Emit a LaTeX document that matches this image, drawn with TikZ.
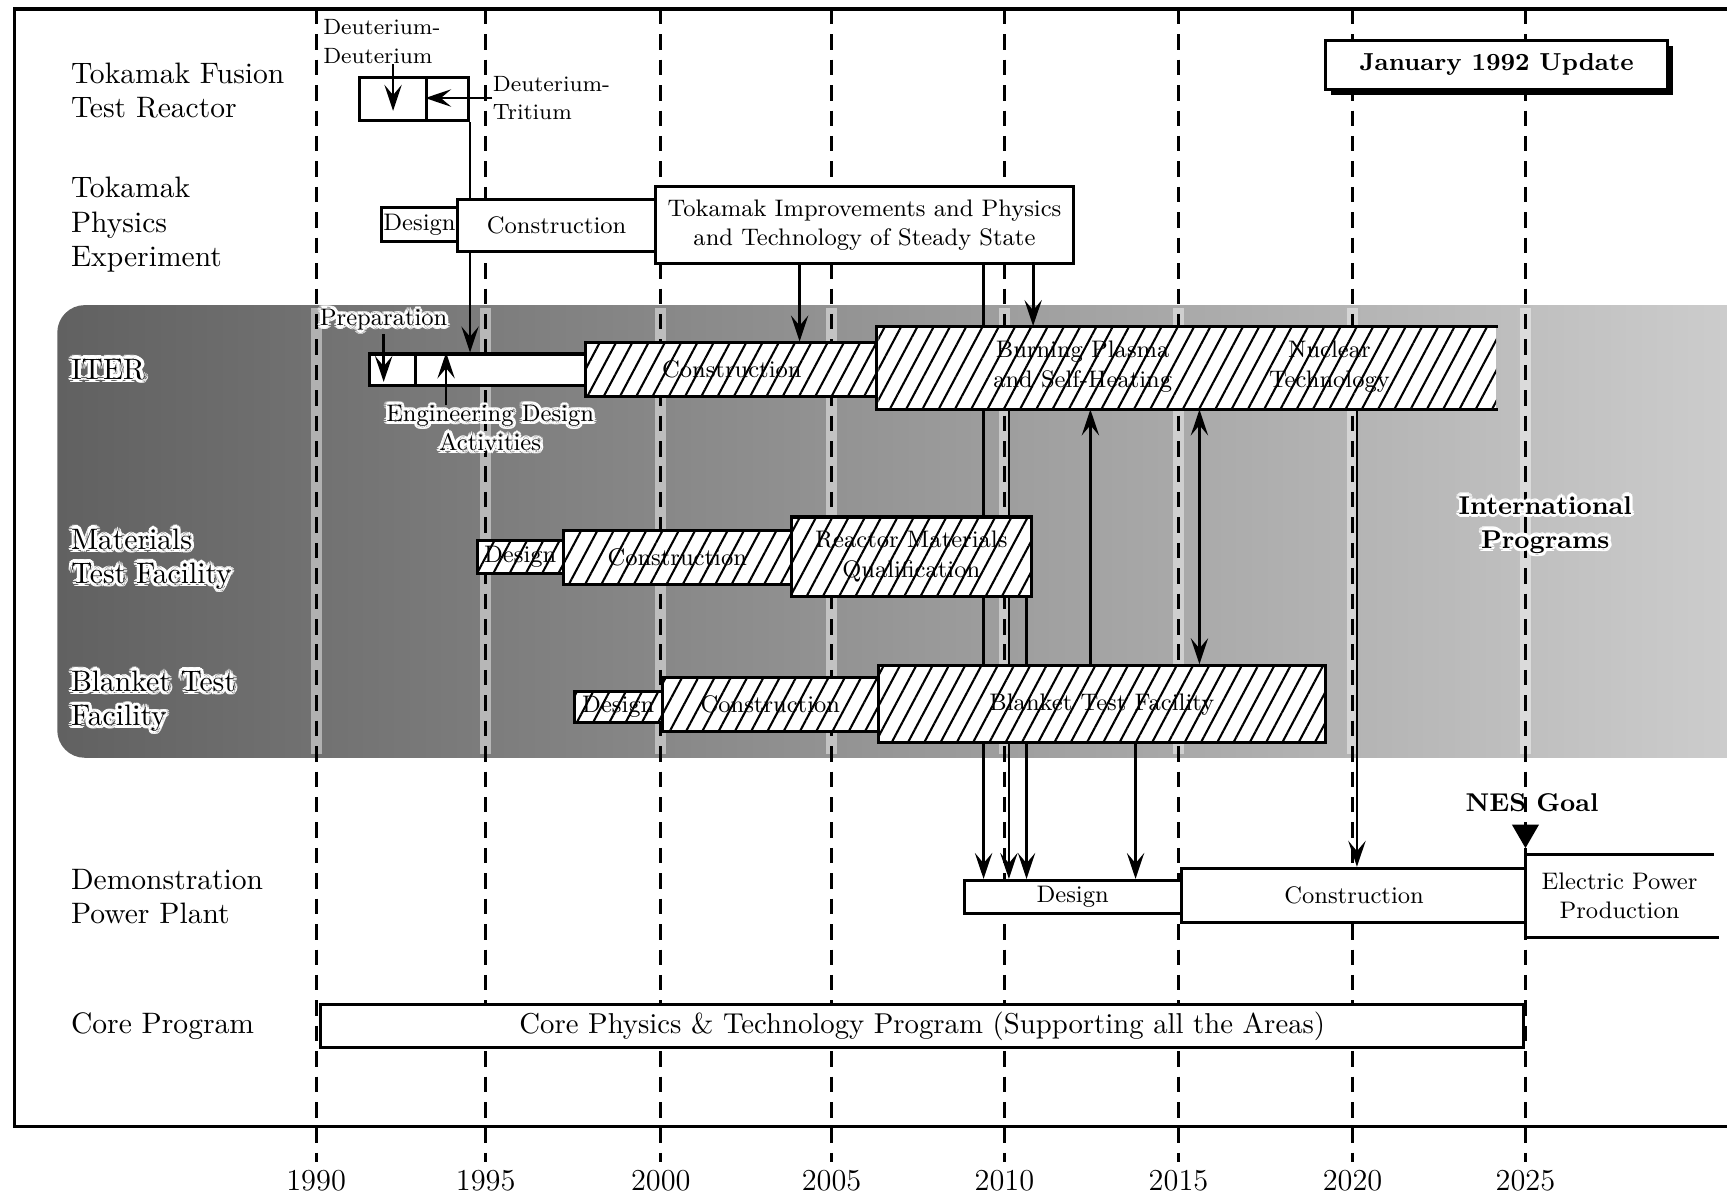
\documentclass[tikz,border=0pt]{standalone}
\usepackage{contour}
\usetikzlibrary{arrows.meta,patterns.meta,shadows,shapes.geometric}
\contourlength{1.2pt}
\contournumber{12}
\newcommand{\halo}[1]{\contour{white}{#1}}
\newlength{\pxu}
\setlength{\pxu}{0.014cm}
\pgfdeclarelayer{band}
\pgfdeclarelayer{wires}
\pgfsetlayers{band,wires,main}

\begin{document}
\begin{tikzpicture}[x=\pxu, y=\pxu, >={Stealth[length=3.3mm,width=2.2mm,inset=1.3mm]},
    font=\fontsize{8.65}{10.7}\selectfont,
    boxsz/.style 2 args={minimum width=#1*\pxu, minimum height=#2*\pxu},
    edge/.style={draw, line width=1.1pt, inner sep=0pt, anchor=north west, align=center},
    bar/.style={edge, fill=white},
    hbar/.style={edge, preaction={fill=white}, pattern={Lines[angle=62,distance=5.2pt,line width=0.75pt]}},
    rowlbl/.style={anchor=west, align=left, inner sep=0pt, font=\fontsize{10.7}{12.35}\selectfont},
    txt/.style={align=center, inner sep=0pt},
    link/.style={line width=1pt},
    yrline/.style={line width=1.1pt, dash pattern=on 5.6pt off 3.6pt}]
  \useasboundingbox (0,0) rectangle (1568,-1085);

  % frame and grey band
  \draw[line width=1.25pt] (1568,-8) -- (13,-8) -- (13,-1023) -- (1568,-1023);
  \begin{pgfonlayer}{band}
    \clip (0,0) rectangle (1568,-1085);
    \shade[rounded corners=0.35cm, left color=black!62, middle color=black!45, right color=black!18] (52,-277) rectangle (1640,-688);
  \end{pgfonlayer}

  % row names
  \node[rowlbl] (tftrlbl) at (64,-82) {Tokamak Fusion\\Test Reactor};
  \node[rowlbl] (tpxlbl) at (64,-204) {Tokamak\\Physics\\Experiment};
  \node[rowlbl] (iterlbl) at (64,-337) {\halo{ITER}};
  \node[rowlbl] (mtflbl) at (64,-509) {\halo{Materials}\\\halo{Test Facility}};
  \node[rowlbl] (btflbl) at (64,-638) {\halo{Blanket Test}\\\halo{Facility}};
  \node[rowlbl] (demolbl) at (64,-814) {Demonstration\\Power Plant};
  \node[rowlbl] (corelbl) at (64,-932) {Core Program};

  % TFTR
  \node[bar, boxsz={61}{39}] (tftrA) at (325,-69) {};
  \node[bar, boxsz={38}{39}] (tftrB) at (386,-69) {};
  \node[txt, anchor=west, align=left, font=\fontsize{8}{10.4}\selectfont] (dd) at (293,-38) {Deuterium-\\Deuterium};
  \node[txt, anchor=west, align=left, font=\fontsize{8}{10.4}\selectfont] (dt) at (447,-89) {Deuterium-\\Tritium};
  \draw[link,->] (dd.south -| tftrA) -- ([yshift=-0.15cm]tftrA.center);
  \draw[link,->] (dt.west) -- (dt.west -| tftrB.west);

  % TPX
  \node[bar, boxsz={69}{31}] (tpxd) at (345,-187) {Design};
  \node[bar, boxsz={180}{47}] (tpxc) at (414,-180) {Construction};
  \node[bar, boxsz={379}{70}] (tpxi) at (594,-168) {Tokamak Improvements and Physics\\and Technology of Steady State};

  % ITER
  \node[bar, boxsz={42}{29}] (prep) at (334,-320) {};
  \node[bar, boxsz={155}{29}] (eda) at (376,-320) {};
  \node[hbar, boxsz={265}{49}] (iterc) at (531,-310) {Construction};
  \node[hbar, draw=none, boxsz={561}{73}] (burn) at (796,-296) {};
  \draw[line width=1.1pt] (burn.north east) -- (burn.north west) -- (burn.south west) -- (burn.south east);
  \node[txt] (burnA) at (983,-333) {Burning Plasma\\and Self-Heating};
  \node[txt] (burnB) at (1207,-333) {Nuclear\\Technology};
  \node[txt, anchor=west] (preplbl) at (290,-292) {\halo{Preparation}};
  \node[txt, font=\fontsize{8.65}{10.4}\selectfont] (edalbl) at (445,-390) {\halo{Engineering Design}\\\halo{Activities}};
  \draw[link,->] (preplbl.south) -- ([yshift=0.07cm]preplbl.south |- prep.south);
  \draw[link,->] ([xshift=-0.56cm]edalbl.north) -- ([xshift=-0.56cm]edalbl.north |- eda.north);

  % Materials Test Facility
  \node[hbar, boxsz={78}{30}] (mtfd) at (432,-489) {Design};
  \node[hbar, boxsz={207}{49}] (mtfc) at (510,-480) {Construction};
  \node[hbar, boxsz={218}{72}] (rmq) at (717,-468) {Reactor Materials\\Qualification};

  % Blanket Test Facility
  \node[hbar, boxsz={80}{29}] (btfd) at (520,-626) {Design};
  \node[hbar, boxsz={196}{49}] (btfc) at (600,-614) {Construction};
  \node[hbar, boxsz={406}{70}] (btfm) at (796,-603) {Blanket Test Facility};

  % Demo plant
  \node[bar, boxsz={197}{30}] (demod) at (874,-798) {Design};
  \node[bar, boxsz={314}{49}] (democ) at (1071,-787) {Construction};
  \node[bar, draw=none, boxsz={168}{72}] (epp) at (1385,-776) {Electric Power\\Production};
  \draw[line width=1.1pt] (epp.north east) -- (epp.north west) -- (epp.south west) -- ([xshift=0.07cm]epp.south east);
  \node[regular polygon, regular polygon sides=3, shape border rotate=180, fill, inner sep=0pt,
        minimum size=0.4cm, anchor=corner 1] (nes) at ([yshift=0.07cm]epp.north west) {};
  \node[txt, font=\bfseries\fontsize{9.3}{11}\selectfont] (neslbl) at (1391,-729) {NES Goal};

  % core program
  \node[bar, boxsz={1092}{39}, font=\fontsize{10.4}{12}\selectfont] (corep) at (290,-911)
    {Core Physics \& Technology Program (Supporting all the Areas)};

  \node[bar, boxsz={311}{45}, font=\bfseries\fontsize{8.9}{10.5}\selectfont,
        drop shadow={shadow xshift=0.07cm, shadow yshift=-0.07cm, fill=black, opacity=1}] (upd) at (1202,-35) {January 1992 Update};
  \node[txt, font=\bfseries\fontsize{9.3}{12.35}\selectfont] (intl) at (1403,-478) {\halo{International}\\\halo{Programs}};

  % taps on the boxes
  \coordinate (tiA) at (726,0);  \coordinate (tiB) at (893,0);  \coordinate (tiC) at (938,0);
  \coordinate (bpA) at (916,0);  \coordinate (rmqA) at (932,0); \coordinate (bpB) at (990,0);
  \coordinate (bpC) at (1089,0); \coordinate (bpD) at (1232,0); \coordinate (btfA) at (1031,0);

  \begin{pgfonlayer}{wires}
    \foreach \xx/\yr in {287/1990,441/1995,600/2000,755/2005,912/2010,1070/2015,1228/2020,1385/2025}{
      \draw[white, opacity=.45, line width=4pt] (\xx,-280) -- (\xx,-685);
      \draw[yrline] (\xx,-8) -- (\xx,-1055);
      \node[font=\fontsize{11}{13}\selectfont] (y\yr) at (\xx,-1072) {\yr};
    }
    \draw[link,->] (tftrB.south east) -- (tftrB.south east |- eda.north);
    \draw[link,->] (tpxi.south -| tiA) -- (iterc.north -| tiA);
    \draw[link,->] (tpxi.south -| tiB) -- (demod.north -| tiB);
    \draw[link,->] (tpxi.south -| tiC) -- (burn.north -| tiC);
    \draw[link,->] (burn.south -| bpA) -- (demod.north -| bpA);
    \draw[link,->] (rmq.south -| rmqA) -- (demod.north -| rmqA);
    \draw[link,->] (btfm.north -| bpB) -- (burn.south -| bpB);
    \draw[link,<->] (burn.south -| bpC) -- (btfm.north -| bpC);
    \draw[link,->] (burn.south -| bpD) -- (democ.north -| bpD);
    \draw[link,->] (btfm.south -| btfA) -- (demod.north -| btfA);
  \end{pgfonlayer}
\end{tikzpicture}
\end{document}
